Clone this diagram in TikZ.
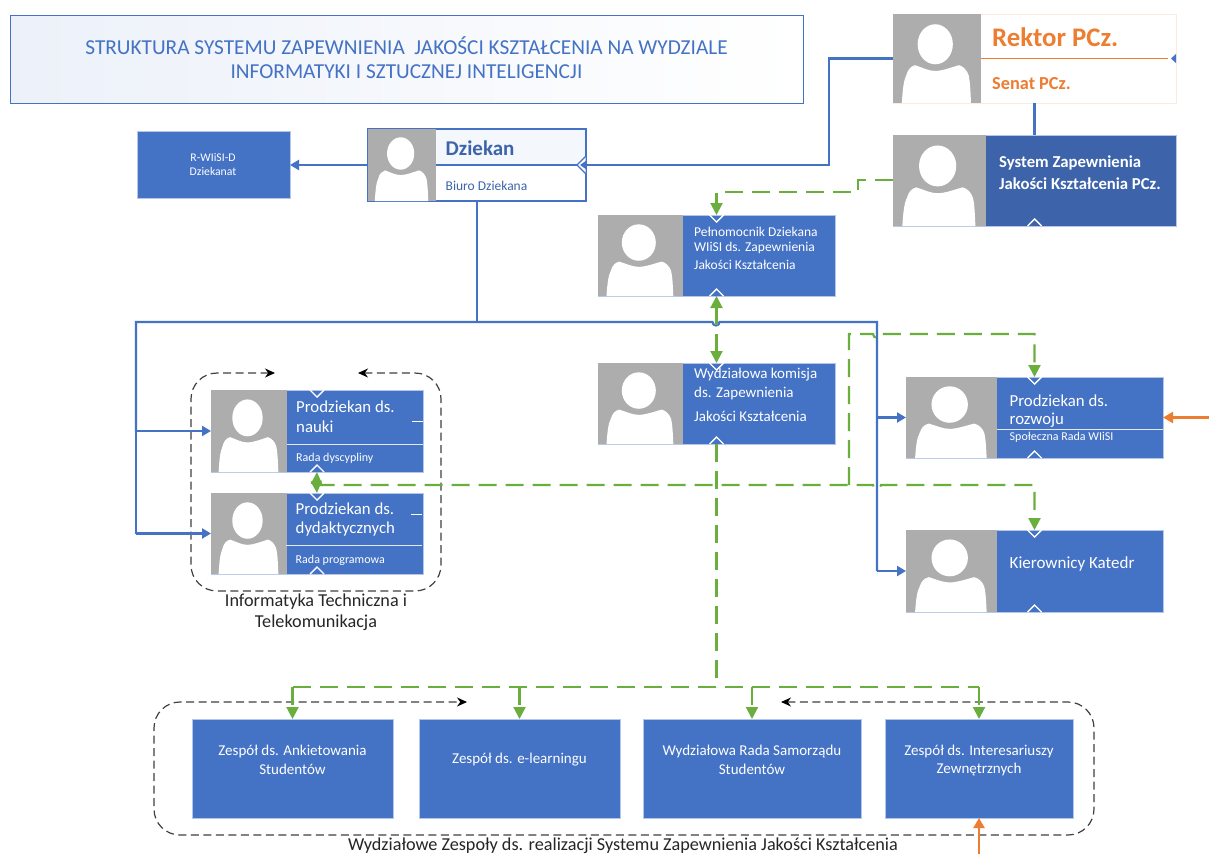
\documentclass[tikz,border=0pt]{standalone}
\usepackage{fontspec}
\setmainfont{Carlito}
\usetikzlibrary{arrows.meta,calc}
\definecolor{cblue}{HTML}{4472C4}
\definecolor{cdark}{HTML}{3D64AB}
\definecolor{cgrey}{HTML}{ADADAD}
\definecolor{corange}{HTML}{ED7D31}
\definecolor{cgreen}{HTML}{6AAE3E}
\definecolor{cedge}{HTML}{B4C7E7}
\definecolor{cdash}{HTML}{404040}
\newcommand{\fs}[1]{\fontsize{#1}{#1}\selectfont}
% portrait: node, width of the grey part
\newcommand{\portrait}[3]{%
  \begin{scope}[shift={(#1.north west)},x=#2pt,y=-#3pt]
    \fill[cgrey] (0,0) rectangle (1,1);
    \fill[white] (.48,.34) ellipse [x radius=.2,y radius=.225];
    \fill[white] (.10,1) .. controls (.11,.85) and (.12,.75) .. (.15,.69)
      .. controls (.17,.62) and (.2,.59) .. (.25,.575)
      .. controls (.33,.6) and (.4,.64) .. (.48,.64)
      .. controls (.56,.64) and (.66,.6) .. (.75,.575)
      .. controls (.8,.59) and (.84,.63) .. (.86,.69)
      .. controls (.875,.76) and (.88,.85) .. (.886,1) -- cycle;
  \end{scope}}
\newcommand{\notchtop}[1]{\draw[notch] ($(#1.north)+(-7,0)$) -- ($(#1.north)+(0,7)$) -- ($(#1.north)+(7,0)$);}
\newcommand{\notchbot}[1]{\draw[notch] ($(#1.south)+(-7,0)$) -- ($(#1.south)+(0,-7)$) -- ($(#1.south)+(7,0)$);}
\tikzset{
  panel/.style={anchor=north west,inner sep=0,outer sep=0,fill=cblue,draw=cedge,line width=.6pt},
  wlabel/.style={anchor=west,inner sep=0,text=white},
  clabel/.style={anchor=center,inner sep=0,text=white,align=center},
  notch/.style={draw=white,line width=1.4pt},
  rule/.style={draw=white!85!cblue,line width=1pt},
  bline/.style={draw=cblue,line width=2.2pt},
  barrow/.style={bline,-{Triangle[length=9pt,width=10pt]}},
  gline/.style={draw=cgreen,line width=2.1pt,dash pattern=on 18pt off 9pt},
  garrow/.style={gline,-{Triangle[length=12pt,width=12pt]}},
  gsolid/.style={draw=cgreen,line width=2.1pt,-{Triangle[length=12pt,width=11pt]}},
  oarrow/.style={draw=corange,line width=2.2pt,-{Triangle[length=10pt,width=11pt]}},
  kdash/.style={draw=cdash,line width=1.2pt,dash pattern=on 8pt off 4.5pt,{Stealth[length=10pt,width=9pt,black]}-{Stealth[length=10pt,width=9pt,black]}},
}
\begin{document}
\begin{tikzpicture}[x=1pt,y=-1pt]
\useasboundingbox (0,0) rectangle (1209,854);
\fill[white] (0,0) rectangle (1209,854);

% title
\node[panel,left color=cblue!10!white,right color=white,draw=cblue,line width=.9pt,minimum width=793pt,minimum height=88pt] (title) at (10,15) {};
\node[clabel,text=cblue,font=\fs{21.3}] (titleA) at (406.5,46) {STRUKTURA SYSTEMU ZAPEWNIENIA\ \ JAKOŚCI KSZTAŁCENIA NA WYDZIALE};
\node[clabel,text=cblue,font=\fs{21.3}] (titleB) at (406.5,72) {INFORMATYKI I SZTUCZNEJ INTELIGENCJI};

% Rektor
\node[panel,fill=white,draw=corange!15!white,minimum width=283pt,minimum height=89pt] (rektor) at (893,14) {};
\portrait{rektor}{88}{89}
\draw[corange,line width=1.3pt] (981,58.5) -- (1168,58.5);
\node[wlabel,text=corange,font=\bfseries\fs{26.8}] (rektorT) at (992,37) {Rektor PCz.};
\node[wlabel,text=corange,font=\bfseries\fs{18.3}] (senatT) at (992,84) {Senat PCz.};
\fill[white] (rektor.east)++(0,-7) -- ++(-8,7) -- ++(8,7) -- cycle;
\fill[cblue] (rektor.east)++(0,-4.5) -- ++(-5,4.5) -- ++(5,4.5) -- cycle;

% System
\node[panel,fill=cdark,minimum width=283pt,minimum height=91pt] (system) at (893,135) {};
\portrait{system}{93}{91}
\node[wlabel,font=\bfseries\fs{16.7}] (systemA) at (999,163) {System Zapewnienia};
\node[wlabel,font=\bfseries\fs{16.7}] (systemB) at (999,184) {Jakości Kształcenia PCz.};
\notchbot{system}

% Dziekan
\node[panel,fill=white,draw=cblue,line width=1.1pt,minimum width=218pt,minimum height=72pt] (dziekan) at (368,129) {};
\fill[cblue!6!white] (436,130) rectangle (585,164);
\portrait{dziekan}{68}{72}
\draw[cblue,line width=1.4pt] (436,165) -- (578,165);
\node[wlabel,text=cdark,font=\bfseries\fs{21}] (dziekanT) at (445.5,148.5) {Dziekan};
\node[wlabel,text=cdark,font=\fs{13.5}] (biuroT) at (445.5,186) {Biuro Dziekana};

% Dziekanat
\node[panel,minimum width=153pt,minimum height=67pt] (dziekanat) at (137,131) {};
\node[clabel,font=\fs{11.7}] (dziekanatA) at (213,158) {R-WIiSI-D};
\node[clabel,font=\fs{11.7}] (dziekanatB) at (213,171.5) {Dziekanat};

% Pelnomocnik
\node[panel,minimum width=237pt,minimum height=81pt] (pelnom) at (598,215) {};
\portrait{pelnom}{85}{81}
\node[wlabel,font=\fs{13.5}] (pelA) at (694,232) {Pełnomocnik Dziekana};
\node[wlabel,font=\fs{13.5}] (pelB) at (694,248) {WIiSI ds. Zapewnienia};
\node[wlabel,font=\fs{13.5}] (pelC) at (694,264.5) {Jakości Kształcenia};
\notchtop{pelnom}\notchbot{pelnom}

% Komisja
\node[panel,minimum width=237pt,minimum height=81pt] (komisja) at (598,363) {};
\portrait{komisja}{85}{81}
\node[wlabel,font=\fs{15}] (komA) at (694,375) {Wydziałowa komisja};
\node[wlabel,font=\fs{15}] (komB) at (694,393) {ds. Zapewnienia};
\node[wlabel,font=\fs{15}] (komC) at (694,416.5) {Jakości Kształcenia};
\notchtop{komisja}\notchbot{komisja}

% Prodziekan nauki
\node[panel,minimum width=212pt,minimum height=82pt] (nauki) at (211,390) {};
\portrait{nauki}{76}{82}
\draw[rule] (287,444.5) -- (423,444.5);
\draw[white,line width=.7pt] (412,421) -- (423,421);
\node[wlabel,font=\fs{16.8}] (naukiA) at (296,407) {Prodziekan ds.};
\node[wlabel,font=\fs{16.8}] (naukiB) at (296,427) {nauki};
\node[wlabel,font=\fs{12}] (naukiC) at (296,458) {Rada dyscypliny};
\notchtop{nauki}\notchbot{nauki}

% Prodziekan dydaktyczny
\node[panel,minimum width=212pt,minimum height=81pt] (dydakt) at (211,493) {};
\portrait{dydakt}{76}{81}
\draw[rule] (286,545.5) -- (422,545.5);
\draw[white,line width=.7pt] (411,514) -- (422,514);
\node[wlabel,font=\fs{16.8}] (dydA) at (295.5,509) {Prodziekan ds.};
\node[wlabel,font=\fs{16.8}] (dydB) at (295.5,529) {dydaktycznych};
\node[wlabel,font=\fs{12}] (dydC) at (295.5,560) {Rada programowa};
\notchtop{dydakt}\notchbot{dydakt}

% Prodziekan rozwoju
\node[panel,minimum width=257pt,minimum height=81pt] (rozwoj) at (906,377) {};
\portrait{rozwoj}{91}{81}
\draw[rule] (997,429.5) -- (1163,429.5);
\node[wlabel,font=\fs{16.8}] (rozA) at (1009.5,400.5) {Prodziekan ds.};
\node[wlabel,font=\fs{16.8}] (rozB) at (1009.5,420.5) {rozwoju};
\node[wlabel,font=\fs{12}] (rozC) at (1009.5,437.5) {Społeczna Rada WIiSI};
\notchtop{rozwoj}\notchbot{rozwoj}

% Kierownicy
\node[panel,minimum width=257pt,minimum height=82pt] (kier) at (906,530) {};
\portrait{kier}{91}{82}
\node[wlabel,font=\fs{17}] (kierT) at (1009.5,564) {Kierownicy Katedr};
\notchtop{kier}\notchbot{kier}

% bottom teams
\node[panel,minimum width=201pt,minimum height=99pt] (zesA) at (192,719) {};
\node[panel,minimum width=201pt,minimum height=99pt] (zesB) at (419,719) {};
\node[panel,minimum width=218pt,minimum height=99pt] (zesC) at (643,719) {};
\node[panel,minimum width=188pt,minimum height=99pt] (zesD) at (885,719) {};
\node[clabel,font=\fs{15}] (zesAa) at (292.5,751) {Zespół ds. Ankietowania};
\node[clabel,font=\fs{15}] (zesAb) at (292.5,769) {Studentów};
\node[clabel,font=\fs{15}] (zesBa) at (519.5,760) {Zespół ds. e-learningu};
\node[clabel,font=\fs{15}] (zesCa) at (752,751) {Wydziałowa Rada Samorządu};
\node[clabel,font=\fs{15}] (zesCb) at (752,769) {Studentów};
\node[clabel,font=\fs{15}] (zesDa) at (979,751) {Zespół ds. Interesariuszy};
\node[clabel,font=\fs{15}] (zesDb) at (979,769) {Zewnętrznych};

% group outlines
\coordinate (gapA) at (275,373);
\coordinate (gapB) at (358,373);
\draw[kdash,rounded corners=26pt] (gapB) -- (441,373) -- (441,591) -- (191,591) -- (191,373) -- (gapA);
\coordinate (gapC) at (467,702);
\coordinate (gapD) at (781,702);
\draw[kdash,rounded corners=26pt] (gapD) -- (1094,702) -- (1094,835) -- (154,835) -- (154,702) -- (gapC);
\node[clabel,text=black!85,font=\fs{18.2}] (grpA) at (316,602) {Informatyka Techniczna i};
\node[clabel,text=black!85,font=\fs{18.2}] (grpB) at (316,623) {Telekomunikacja};
\node[clabel,text=black!85,font=\fs{18.2}] (grpC) at (623,846) {Wydziałowe Zespoły ds. realizacji Systemu Zapewnienia Jakości Kształcenia};

% blue connectors
\coordinate (rkA) at (829,58.5);
\coordinate (rkB) at (829,165);
\coordinate (busL) at (136,322);
\coordinate (busR) at (877,322);
\fill[white] (dziekan.east)++(-.5,-9) -- ++(-8.5,9) -- ++(8.5,9) -- cycle;
\draw[cblue,line width=1.3pt] (dziekan.east)++(0,-9) -- ++(-9,9) -- ++(9,9);
\coordinate (dzTip) at ($(dziekan.east)+(-6,0)$);
\draw[bline,-{Triangle[length=6pt,width=8pt]}] (rektor.west) -- (rkA) -- (rkB) -- (dzTip);
\draw[bline] (rektor.south) -- (system.north);
\draw[barrow] (dziekan.west) -- (dziekanat.east |- dziekan.west);
\draw[bline] (dziekan.south) -- (dziekan.south |- busL);
\draw[bline] (busL |- nauki.west) -- (busL) -- (712.5,322) arc[start angle=180,end angle=0,radius=3.5] -- (busR) -- (busR |- kier.west);
\draw[barrow] (busL |- nauki.west) -- (nauki.west);
\draw[bline] (busL) -- (busL |- dydakt.west);
\draw[barrow] (busL |- dydakt.west) -- (dydakt.west);
\draw[barrow] (busR |- rozwoj.west) -- (rozwoj.west);
\draw[barrow] (busR |- kier.west) -- (kier.west);

% orange connectors
\coordinate (oA) at (1209,417.5);
\coordinate (oB) at (979,854);
\draw[oarrow] (oA) -- (rozwoj.east);
\draw[oarrow] (oB) -- (zesD.south);

% green connectors
\coordinate (sysG) at (858,180);
\coordinate (sysH) at (858,192);
\draw[garrow] (system.west |- sysG) -- (sysG) -- (sysH) -- (sysH -| pelnom.north) -- (pelnom.north);
\draw[gline,{Triangle[length=12pt,width=12pt]}-{Triangle[length=12pt,width=12pt]}] (pelnom.south) -- (komisja.north);
\coordinate (railL) at (316.5,485);
\coordinate (railU) at (849,485);
\coordinate (upT) at (849,334);
\coordinate (busG) at (716.5,687);
\draw[garrow] (railL) -- (873,485) arc[start angle=180,end angle=0,radius=4] -- (kier.north |- railL) -- (kier.north);
\draw[garrow] (railU) -- (upT) -- (873,334) arc[start angle=180,end angle=0,radius=4] -- (rozwoj.north |- upT) -- (rozwoj.north);
\draw[gsolid] (railL) -- (nauki.south);
\draw[gsolid] (railL) -- (dydakt.north);
\draw[gline] (komisja.south) -- (busG);
\draw[gline] (zesA.north |- busG) -- (zesD.north |- busG);
\draw[garrow] (zesA.north |- busG) -- (zesA.north);
\draw[garrow] (zesB.north |- busG) -- (zesB.north);
\draw[garrow] (zesC.north |- busG) -- (zesC.north);
\draw[garrow] (zesD.north |- busG) -- (zesD.north);
\end{tikzpicture}
\end{document}
